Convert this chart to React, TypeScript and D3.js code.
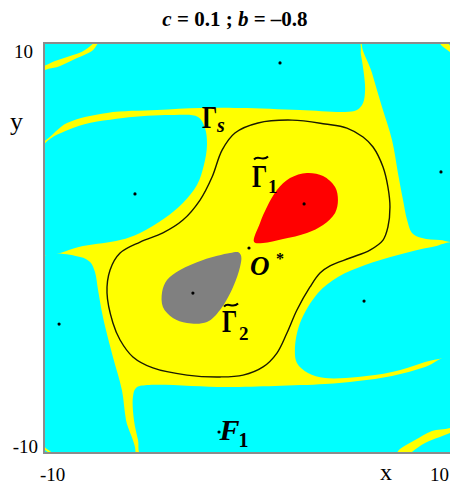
import React from 'react';
import * as d3 from 'd3';

type Pt = [number, number];

// Phase-plane window
const xDomain: Pt = [-10, 10];
const yDomain: Pt = [-10, 10];
const xTickLabels = ['-10', '10'];
const yTickLabels = ['10', '-10'];

// Basins of the far attractors (cyan), outlines in (x, y)
const basinCornerTL: Pt[] = [[-10.25, 10.2], [-7.55, 10.2], [-8.04, 9.71], [-8.77, 9.41], [-9.51, 9.17], [-10.25, 8.92]];
const basinTop: Pt[] = [[-10.25, 8.53], [-9.26, 8.92], [-8.43, 9.31], [-7.7, 9.66], [-7.16, 10.2], [-0.93, 10.2], [5.34, 10.2], [5.49, 9.46], [5.64, 8.48], [5.69, 7.75], [5.59, 7.11], [5.29, 6.76], [4.71, 6.67], [2.5, 6.76], [-0.44, 6.86], [-2.4, 6.86], [-4.51, 6.76], [-6.96, 6.62], [-8.92, 6.13], [-10.25, 5.2]];
const basinLeftUpper: Pt[] = [[-10.25, 4.8], [-8.63, 5.88], [-6.18, 6.37], [-3.73, 6.52], [-2.5, 6.42], [-2.16, 5.88], [-2.06, 5.05], [-2.21, 4.07], [-2.55, 3.09], [-3.24, 2.21], [-4.12, 1.47], [-5.34, 0.74], [-6.32, 0.39], [-8.14, 0.1], [-10.25, -0.25]];
const basinLeftLower: Pt[] = [[-10.25, -0.54], [-8.28, -0.44], [-7.79, -0.69], [-7.55, -1.18], [-7.4, -2.06], [-7.16, -3.38], [-6.67, -5.34], [-6.23, -6.96], [-6.03, -8.43], [-5.64, -10.2], [-9.17, -10.2], [-10.25, -9.41]];
const basinCornerBL: Pt[] = [[-10.25, -9.8], [-9.66, -10.2], [-10.25, -10.2]];
const basinBottom: Pt[] = [[-5.69, -7.3], [-5.54, -6.86], [-5.0, -6.72], [-1.18, -6.81], [1.27, -6.76], [3.73, -6.67], [5.34, -6.52], [7.01, -6.27], [8.63, -5.83], [10.15, -5.2], [10.15, -8.63], [8.97, -8.97], [8.14, -9.41], [7.4, -9.85], [7.06, -10.2], [-5.25, -10.2], [-5.44, -9.41], [-5.64, -8.43]];
const basinCornerBR: Pt[] = [[10.15, -9.07], [9.36, -9.26], [8.63, -9.56], [7.99, -10.0], [7.79, -10.2], [10.15, -10.2]];
const basinRightLower: Pt[] = [[2.25, -5.0], [2.5, -3.68], [3.38, -2.21], [4.36, -1.42], [5.69, -0.83], [7.3, -0.34], [8.97, 0.05], [10.15, 0.2], [10.15, -5.0], [8.63, -5.59], [7.01, -6.08], [5.34, -6.32], [3.73, -6.37], [2.89, -6.13], [2.35, -5.64]];
const basinRightUpper: Pt[] = [[5.59, 10.2], [9.17, 10.2], [9.46, 9.9], [9.85, 9.61], [10.15, 9.41], [10.15, 0.39], [9.36, 0.39], [8.48, 0.49], [7.99, 0.74], [7.75, 1.37], [7.55, 2.35], [7.3, 3.68], [7.01, 5.29], [6.52, 6.91], [6.03, 8.58]];
const basinCornerTR: Pt[] = [[9.66, 10.2], [10.15, 10.2], [10.15, 9.71]];

const cyanBasins: Pt[][] = [basinCornerTL, basinTop, basinLeftUpper, basinLeftLower, basinCornerBL, basinBottom, basinCornerBR, basinRightLower, basinRightUpper, basinCornerTR];

// Basins of the two inner cycles
const basinGamma1: Pt[] = [[0.25, 0.29], [0.54, 1.23], [0.88, 2.01], [1.37, 2.84], [2.01, 3.43], [2.84, 3.68], [3.63, 3.53], [4.22, 2.99], [4.36, 2.35], [4.22, 1.72], [3.63, 1.13], [2.84, 0.74], [1.67, 0.44], [0.69, 0.25]];
const basinGamma2: Pt[] = [[-4.26, -2.16], [-4.02, -1.57], [-3.38, -1.08], [-2.25, -0.59], [-0.93, -0.25], [-0.5, -0.22], [-0.38, -0.42], [-0.44, -0.93], [-0.78, -1.91], [-1.42, -3.04], [-2.06, -3.63], [-3.04, -3.68], [-3.73, -3.43], [-4.22, -2.89]];

// Saddle cycle Γs
const cycleGammaS: Pt[] = [[-6.32, -0.25], [-5.34, 0.29], [-4.22, 0.74], [-3.24, 1.37], [-2.4, 2.35], [-1.81, 3.48], [-1.32, 4.8], [-0.69, 5.64], [0.44, 6.13], [2.11, 6.27], [3.73, 6.08], [4.8, 5.88], [5.59, 5.44], [6.08, 4.95], [6.57, 3.97], [6.81, 2.99], [6.91, 2.01], [6.81, 1.03], [6.57, 0.39], [5.93, -0.1], [4.95, -0.49], [3.97, -0.88], [3.48, -1.23], [2.99, -1.91], [2.35, -3.04], [1.86, -4.17], [1.37, -5.15], [0.69, -5.83], [-0.29, -6.23], [-1.42, -6.32], [-3.04, -6.23], [-4.71, -5.88], [-5.69, -5.34], [-6.32, -4.51], [-6.67, -3.68], [-6.96, -2.21], [-6.81, -1.08]];

// Equilibria
const equilibria: Pt[] = [[1.52, 9.07], [-5.59, 2.65], [9.41, 3.73], [-9.31, -3.73], [5.64, -2.6], [2.7, 2.16], [-2.75, -2.21], [0, 0], [-1.47, -9.02]];

const W = 450;
const H = 486;
const plot = { left: 45, right: 453, top: 44, bottom: 452 };

const CYAN = '#00ffff';
const YELLOW = '#ffff00';
const RED = '#ff0000';
const GREY = '#808080';
const SERIF = '"Liberation Serif", "Times New Roman", serif';

function Tilde({ x, y, w }: { x: number; y: number; w: number }) {
  const d = `M${x},${y + 1.5} C${x + w * 0.3},${y - 3.5} ${x + w * 0.6},${y + 4} ${x + w},${y - 1.5}`;
  return <path d={d} fill="none" stroke="#000" strokeWidth={2} />;
}

export default function App() {
  const sx = d3.scaleLinear().domain(xDomain).range([plot.left, plot.right]);
  const sy = d3.scaleLinear().domain(yDomain).range([plot.bottom, plot.top]);
  const closed = d3
    .line<Pt>()
    .x((d) => sx(d[0]))
    .y((d) => sy(d[1]))
    .curve(d3.curveCatmullRomClosed.alpha(0.5));

  const gs = [sx(-2.3), sy(5.88)];
  const g1 = [sx(0.15), sy(2.99)];
  const g2 = [sx(-1.32), sy(-4.12)];
  const o = [sx(0.05), sy(-1.32)];
  const f1 = [sx(-1.45), sy(-9.41)];

  return (
    <svg width={W} height={H} style={{ position: 'absolute', left: 0, top: 0, background: '#fff' }} fontFamily={SERIF}>
      <defs>
        <clipPath id="plotClip">
          <rect x={plot.left} y={plot.top} width={plot.right - plot.left} height={plot.bottom - plot.top} />
        </clipPath>
      </defs>

      <text x={235} y={26} textAnchor="middle" fontSize={21} fontWeight="bold">
        <tspan fontStyle="italic">c</tspan>
        <tspan> = 0.1 ; </tspan>
        <tspan fontStyle="italic">b</tspan>
        <tspan> = –0.8</tspan>
      </text>

      <g clipPath="url(#plotClip)">
        <rect x={plot.left} y={plot.top} width={plot.right - plot.left} height={plot.bottom - plot.top} fill={YELLOW} />
        {cyanBasins.map((b, i) => (
          <path key={i} d={closed(b) ?? ''} fill={CYAN} />
        ))}
        <path d={closed(basinGamma1) ?? ''} fill={RED} />
        <path d={closed(basinGamma2) ?? ''} fill={GREY} />
        <path d={closed(cycleGammaS) ?? ''} fill="none" stroke="#1a1a00" strokeWidth={1.4} />
        {equilibria.map((p, i) => (
          <circle key={i} cx={sx(p[0])} cy={sy(p[1])} r={1.6} fill="#000" />
        ))}
      </g>

      {/* Γs */}
      <text transform={`translate(${gs[0]},${gs[1]}) scale(1,1.3)`} fontSize={24} fontWeight="bold">Γ</text>
      <text x={gs[0] + 15} y={gs[1] + 4} fontSize={20} fontWeight="bold" fontStyle="italic">s</text>

      {/* Γ̃1 */}
      <Tilde x={g1[0] + 2} y={g1[1] - 29} w={14} />
      <text transform={`translate(${g1[0]},${g1[1]}) scale(1,1.3)`} fontSize={24} fontWeight="bold">Γ</text>
      <text x={g1[0] + 16} y={g1[1] + 6} fontSize={19} fontWeight="bold">1</text>

      {/* Γ̃2 */}
      <Tilde x={g2[0] + 2} y={g2[1] - 27} w={14} />
      <text transform={`translate(${g2[0]},${g2[1]}) scale(1,1.3)`} fontSize={24} fontWeight="bold">Γ</text>
      <text x={g2[0] + 17} y={g2[1] + 8} fontSize={19} fontWeight="bold">2</text>

      {/* O* */}
      <text x={o[0]} y={o[1]} fontSize={27} fontWeight="bold" fontStyle="italic">O</text>
      <text x={o[0] + 26} y={o[1] - 11} fontSize={16} fontWeight="bold">*</text>

      {/* F1 */}
      <text x={f1[0]} y={f1[1]} fontSize={30} fontWeight="bold" fontStyle="italic">F</text>
      <text x={f1[0] + 19} y={f1[1] + 7} fontSize={20} fontWeight="bold">1</text>

      <rect x={plot.left - 1} y={plot.top - 1} width={plot.right - plot.left + 2} height={plot.bottom - plot.top + 2} fill="none" stroke="#8c8c8c" strokeWidth={2} />

      {/* axis labels */}
      <text x={33} y={sy(10) + 14} textAnchor="end" fontSize={19}>{yTickLabels[0]}</text>
      <text x={38} y={sy(-10) + 1} textAnchor="end" fontSize={19}>{yTickLabels[1]}</text>
      <text x={10} y={130} fontSize={26}>y</text>
      <text x={sx(-10) - 5} y={481} fontSize={19}>{xTickLabels[0]}</text>
      <text x={sx(10) - 23} y={481} fontSize={19}>{xTickLabels[1]}</text>
      <text x={380} y={480} fontSize={24}>x</text>
    </svg>
  );
}
